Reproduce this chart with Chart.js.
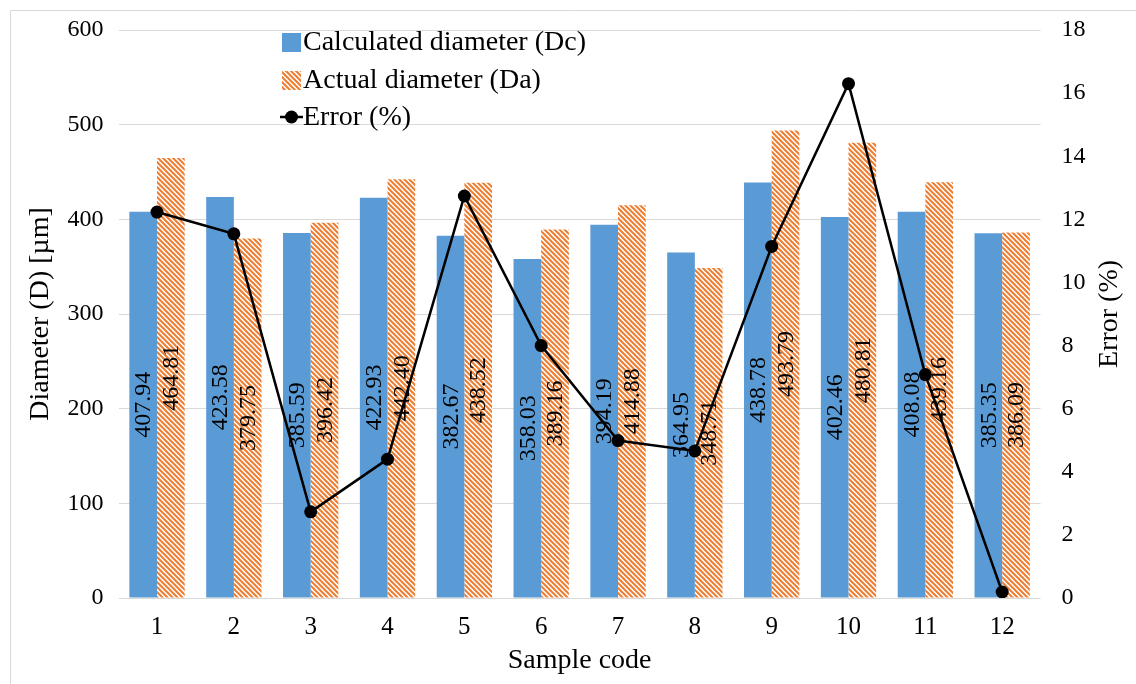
<!DOCTYPE html>
<html>
<head>
<meta charset="utf-8">
<script src="https://cdn.jsdelivr.net/npm/chart.js@4/dist/chart.umd.min.js"></script>
<style>
  html, body { margin: 0; padding: 0; background: #fff; }
  #wrap { width: 1136px; height: 684px; position: relative; }
</style>
</head>
<body>
<div id="wrap"><canvas id="c"></canvas></div>
<script>
// ---- data ----
const categories = ['1', '2', '3', '4', '5', '6', '7', '8', '9', '10', '11', '12'];
const calculatedDiameter = [407.94, 423.58, 385.59, 422.93, 382.67, 358.03, 394.19, 364.95, 438.78, 402.46, 408.08, 385.35];
const actualDiameter = [464.81, 379.75, 396.42, 442.40, 438.52, 389.16, 414.88, 348.71, 493.79, 480.81, 439.16, 386.09];
const errorPercent = [12.23, 11.54, 2.73, 4.40, 12.74, 8.00, 4.99, 4.66, 11.14, 16.30, 7.08, 0.19];
const leftTicks = [0, 100, 200, 300, 400, 500, 600];
const rightTicks = [0, 2, 4, 6, 8, 10, 12, 14, 16, 18];
const seriesNames = ['Calculated diameter (Dc)', 'Actual diameter (Da)', 'Error (%)'];
const rightTitle = 'Error (%)';

const FONT = '"Liberation Serif", "Times New Roman", serif';
const BLUE = '#5B9BD5';
const ORANGE = '#ED7D31';

function makeHatch() {
  const s = 5;
  const p = document.createElement('canvas');
  p.width = s; p.height = s;
  const g = p.getContext('2d');
  g.fillStyle = '#fff';
  g.fillRect(0, 0, s, s);
  g.strokeStyle = ORANGE;
  g.lineWidth = 2;
  g.beginPath();
  for (const k of [-s, 0, s]) {
    g.moveTo(k - 1, -1);
    g.lineTo(k + s + 1, s + 1);
  }
  g.stroke();
  return g.createPattern(p, 'repeat');
}
const hatch = makeHatch();

const barLabels = {
  id: 'barLabels',
  afterDatasetDraw(chart, args) {
    const ds = chart.data.datasets[args.index];
    if (ds.type === 'line') return;
    const ctx = chart.ctx;
    ctx.save();
    ctx.font = '24px ' + FONT;
    ctx.fillStyle = '#000';
    ctx.textAlign = 'center';
    ctx.textBaseline = 'middle';
    args.meta.data.forEach((el, i) => {
      const cx = el.x;
      const cy = (el.y + el.base) / 2;
      ctx.save();
      ctx.translate(cx, cy);
      ctx.rotate(-Math.PI / 2);
      ctx.fillText(ds.data[i].toFixed(2), 0, 1);
      ctx.restore();
    });
    ctx.restore();
  }
};

const customLegend = {
  id: 'customLegend',
  afterDraw(chart) {
    const ctx = chart.ctx;
    const ds = chart.data.datasets;
    const area = chart.chartArea;
    ctx.save();
    // chart border
    ctx.strokeStyle = '#d9d9d9';
    ctx.lineWidth = 1;
    ctx.beginPath();
    ctx.moveTo(10.5, 684); ctx.lineTo(10.5, 10.5); ctx.lineTo(1136, 10.5);
    ctx.stroke();

    // right axis title, reading bottom to top
    ctx.save();
    ctx.font = '28px ' + FONT;
    ctx.fillStyle = '#000';
    ctx.textAlign = 'center';
    ctx.textBaseline = 'middle';
    ctx.translate(1110, (area.top + area.bottom) / 2);
    ctx.rotate(-Math.PI / 2);
    ctx.fillText(rightTitle, 0, 0);
    ctx.restore();

    const x0 = 282, textX = 303;
    const rows = [42, 80, 117];
    ctx.font = '28px ' + FONT;
    ctx.textAlign = 'left';
    ctx.textBaseline = 'middle';
    ctx.fillStyle = ds[0].backgroundColor;
    ctx.fillRect(x0, rows[0] - 9, 19, 19);
    ctx.fillStyle = ds[1].backgroundColor;
    ctx.fillRect(x0, rows[1] - 9, 19, 19);
    ctx.strokeStyle = ds[2].borderColor;
    ctx.lineWidth = 2.5;
    ctx.beginPath();
    ctx.moveTo(x0 - 2, rows[2]); ctx.lineTo(x0 + 21, rows[2]);
    ctx.stroke();
    ctx.fillStyle = ds[2].pointBackgroundColor;
    ctx.beginPath();
    ctx.arc(x0 + 9.5, rows[2], 6.5, 0, Math.PI * 2);
    ctx.fill();
    ctx.fillStyle = '#000';
    for (let i = 0; i < 3; i++) {
      ctx.fillText(ds[i].label, textX, rows[i] + 1);
    }
    ctx.restore();
  }
};

new Chart(document.getElementById('c'), {
  data: {
    labels: categories,
    datasets: [
      {
        type: 'bar',
        label: seriesNames[0],
        data: calculatedDiameter,
        backgroundColor: BLUE,
        borderWidth: 0,
        yAxisID: 'y',
        order: 1,
        categoryPercentage: 0.72,
        barPercentage: 1.0
      },
      {
        type: 'bar',
        label: seriesNames[1],
        data: actualDiameter,
        backgroundColor: hatch,
        borderWidth: 0,
        yAxisID: 'y',
        order: 1,
        categoryPercentage: 0.72,
        barPercentage: 1.0
      },
      {
        type: 'line',
        label: seriesNames[2],
        data: errorPercent,
        borderColor: '#000',
        borderWidth: 2.5,
        pointRadius: 6.5,
        pointBackgroundColor: '#000',
        pointBorderColor: '#000',
        pointBorderWidth: 0,
        tension: 0,
        fill: false,
        yAxisID: 'y1',
        order: 0
      }
    ]
  },
  options: {
    responsive: true,
    maintainAspectRatio: false,
    animation: false,
    devicePixelRatio: 1,
    layout: { padding: { top: 30, left: 0, right: 0, bottom: 0 } },
    plugins: {
      legend: { display: false },
      tooltip: { enabled: false }
    },
    scales: {
      x: {
        grid: { display: false, drawTicks: false },
        border: { display: false },
        ticks: { color: '#000', font: { family: FONT, size: 25 }, padding: 14, maxRotation: 0 },
        title: { display: true, text: 'Sample code', color: '#000', font: { family: FONT, size: 28 }, padding: { top: 0, bottom: 7 } },
        afterFit(s) { s.height = 86; s.paddingLeft = 0; s.paddingRight = 0; }
      },
      y: {
        position: 'left',
        min: 0, max: 600,
        afterBuildTicks(s) { s.ticks = leftTicks.map(v => ({ value: v })); },
        grid: { color: '#d9d9d9', lineWidth: 1, drawTicks: false },
        border: { display: false },
        ticks: { color: '#000', font: { family: FONT, size: 24 }, padding: 15 },
        title: { display: true, text: 'Diameter (D) [µm]', color: '#000', font: { family: FONT, size: 28 }, padding: { top: 24, bottom: 0 } },
        afterFit(s) { s.width = 118.6; s.paddingTop = 0; s.paddingBottom = 0; }
      },
      y1: {
        position: 'right',
        min: 0, max: 18,
        afterBuildTicks(s) { s.ticks = rightTicks.map(v => ({ value: v })); },
        grid: { display: false, drawTicks: false },
        border: { display: false },
        ticks: { color: '#000', font: { family: FONT, size: 24 }, padding: 21 },
        title: { display: false },
        afterFit(s) { s.width = 95.4; s.paddingTop = 0; s.paddingBottom = 0; }
      }
    }
  },
  plugins: [barLabels, customLegend]
});
</script>
</body>
</html>
